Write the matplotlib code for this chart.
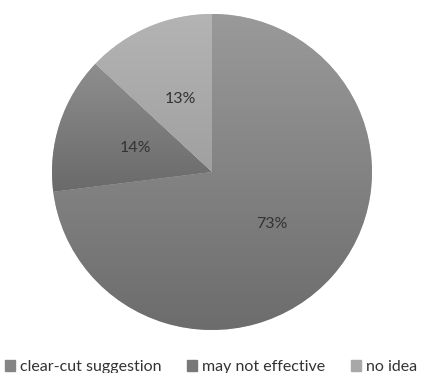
import numpy as np
import matplotlib.pyplot as plt
from matplotlib.colors import LinearSegmentedColormap

categories = ["clear-cut suggestion", "may not effective", "no idea"]
shares = [73, 14, 13]
legend_colors = ["#858585", "#787878", "#a8a8a8"]
# top / bottom shades of the vertical gradient on each wedge
grad_top = ["#9a9a9a", "#8e8e8e", "#b4b4b4"]
grad_bottom = ["#6c6c6c", "#6a6a6a", "#a0a0a0"]

plt.rcParams["font.family"] = ["Lato", "DejaVu Sans"]

fig = plt.figure(figsize=(4.22, 3.73), dpi=100)
ax = fig.add_axes([0.1232, 0.1153, 0.7583, 0.8472])
ax.set_aspect("equal")

wedges, texts, autotexts = ax.pie(
    shares, colors=legend_colors, startangle=90, counterclock=False,
    autopct="%d%%", pctdistance=0.5,
    wedgeprops=dict(edgecolor="white", linewidth=0.3),
    textprops=dict(color="#333333", fontsize=11.5),
)

for w, ct, cb in zip(wedges, grad_top, grad_bottom):
    verts = w.get_path().vertices
    y0, y1 = verts[:, 1].min(), verts[:, 1].max()
    cmap = LinearSegmentedColormap.from_list("g", [cb, ct])
    grad = np.linspace(0, 1, 256).reshape(-1, 1)
    im = ax.imshow(grad, cmap=cmap, origin="lower", aspect="auto",
                   extent=(-1, 1, y0, y1), zorder=w.get_zorder() + 0.1)
    im.set_clip_path(w)

for t in autotexts:
    t.set_zorder(5)

ax.set_xlim(-1.0, 1.0)
ax.set_ylim(-1.0, 1.0)
ax.axis("off")

handles = [plt.Rectangle((0, 0), 1, 1, color=c) for c in legend_colors]
fig.legend(handles, categories, loc="lower center", ncol=3, frameon=False,
           bbox_to_anchor=(0.5, -0.042), fontsize=11.5, handlelength=0.65,
           handleheight=0.65, handletextpad=0.3, columnspacing=1.6,
           labelcolor="#333333")

fig.savefig("out.png", dpi=100, facecolor="white")
